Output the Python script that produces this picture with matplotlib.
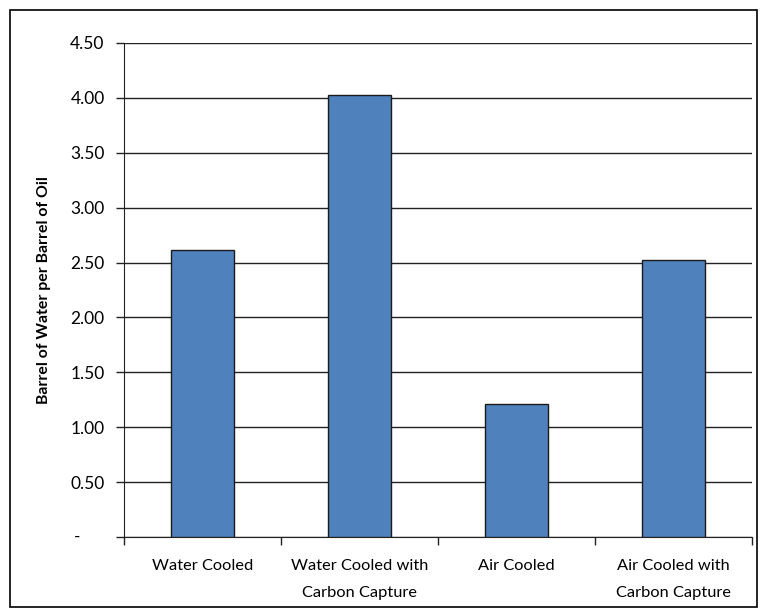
import matplotlib
matplotlib.use("Agg")
import matplotlib.pyplot as plt
from matplotlib.patches import Rectangle
from matplotlib.ticker import FixedLocator, NullFormatter

categories = ["Water Cooled", "Water Cooled with\nCarbon Capture", "Air Cooled",
              "Air Cooled with\nCarbon Capture"]
values = [2.61, 4.03, 1.21, 2.52]
y_ticks = [0, 0.5, 1.0, 1.5, 2.0, 2.5, 3.0, 3.5, 4.0, 4.5]
y_tick_labels = ["-", "0.50", "1.00", "1.50", "2.00", "2.50", "3.00", "3.50", "4.00", "4.50"]

plt.rcParams["font.family"] = ["Lato", "DejaVu Sans"]

fig = plt.figure(figsize=(7.66, 6.13), dpi=100)
ax = fig.add_axes([0.162, 0.124, 0.820, 0.806])

x = list(range(len(categories)))
ax.bar(x, values, width=0.4, color="#4f81bd", edgecolor="#1a1a1a", linewidth=1.0, zorder=3)

ax.set_xlim(-0.5, len(categories) - 0.5)
ax.set_ylim(0, 4.5)
ax.set_yticks(y_ticks)
# zero is shown as a dash placed further left, accounting style
ax.set_yticklabels([""] + y_tick_labels[1:], fontsize=12.5)
ax.annotate(y_tick_labels[0], xy=(0, y_ticks[0]), xycoords=ax.get_yaxis_transform(),
            xytext=(-44, 0), textcoords="offset pixels", ha="right", va="center",
            fontsize=12.5)
ax.yaxis.grid(True, color="#222222", linewidth=1.0, zorder=0)
ax.set_axisbelow(True)

ax.set_xticks(x)
ax.set_xticklabels(categories, fontsize=11.8, linespacing=2.25, va="top")
ax.tick_params(axis="x", length=0, pad=15.5)
ax.xaxis.set_minor_locator(FixedLocator([i - 0.5 for i in range(len(categories) + 1)]))
ax.xaxis.set_minor_formatter(NullFormatter())
ax.tick_params(axis="x", which="minor", length=6, width=1.0, color="#222222")
ax.tick_params(axis="y", length=6, width=1.0, color="#222222", pad=8)

for side in ["top", "right"]:
    ax.spines[side].set_visible(False)
ax.spines["left"].set_color("#222222")
ax.spines["bottom"].set_color("#222222")

ax.set_ylabel("Barrel of Water per Barrel of Oil", fontsize=11.4, fontweight="bold")
ax.yaxis.set_label_coords(-0.116, 0.5)

fig.patches.append(Rectangle((10 / 766, 6 / 613), 747 / 766, 597 / 613, transform=fig.transFigure,
                             fill=False, edgecolor="black", linewidth=1.2))

fig.savefig("out.png", dpi=100)
